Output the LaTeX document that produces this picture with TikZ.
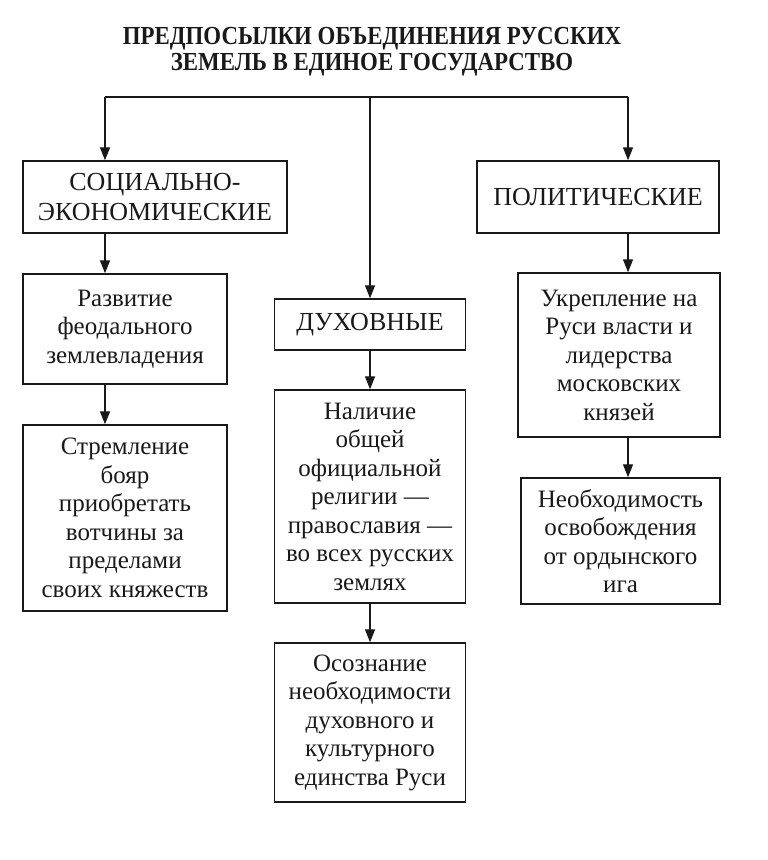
\documentclass[tikz,border=0pt]{standalone}
\usepackage{fontspec}
\setmainfont{Liberation Serif}
\newfontfamily\titlefont{Liberation Serif}[FakeStretch=0.88]
\usepackage{tikz}
\usetikzlibrary{arrows.meta, positioning, calc}
\definecolor{inkblack}{RGB}{25, 25, 25}

\tikzset{
  groupbox/.style={draw=inkblack, line width=1.4pt, align=center, inner sep=0pt,
                   text=inkblack, font=\fontsize{26}{30}\selectfont},
  factbox/.style={draw=inkblack, line width=1.4pt, align=center, inner sep=0pt,
                  text=inkblack, font=\fontsize{25}{28.5}\selectfont},
  flowline/.style={draw=inkblack, line width=1.3pt},
  flowarrow/.style={flowline, -{Triangle[length=13pt, width=10pt]}}
}

\begin{document}
\begin{tikzpicture}[x=1pt, y=-1pt]
    \useasboundingbox (0,0) rectangle (768,860);

    % title
    \node[font=\titlefont\bfseries\fontsize{26}{26}\selectfont, align=center, text=inkblack] (title) at (372,52)
        {ПРЕДПОСЫЛКИ ОБЪЕДИНЕНИЯ РУССКИХ\\ЗЕМЕЛЬ В ЕДИНОЕ ГОСУДАРСТВО};

    % three groups of preconditions
    \node[groupbox, minimum width=264pt, minimum height=72pt] (social) at (155,197)
        {СОЦИАЛЬНО-\\ЭКОНОМИЧЕСКИЕ};
    \node[groupbox, minimum width=191pt, minimum height=51pt] (spirit) at (370,324.5)
        {ДУХОВНЫЕ};
    \node[groupbox, minimum width=242pt, minimum height=72pt] (polit) at (598,197)
        {ПОЛИТИЧЕСКИЕ};

    % left column
    \node[factbox, minimum width=204pt, minimum height=110pt] (feudal) at (125,329)
        {Развитие\\феодального\\землевладения};
    \node[factbox, minimum width=204pt, minimum height=186pt] (boyars) at (125,518)
        {Стремление\\бояр\\приобретать\\вотчины за\\пределами\\своих княжеств};

    % middle column
    \node[factbox, minimum width=191pt, minimum height=213pt] (religion) at (370,496.5)
        {Наличие\\общей\\официальной\\религии —\\православия —\\во всех русских\\землях};
    \node[factbox, minimum width=191pt, minimum height=159pt] (unity) at (370,722.5)
        {Осознание\\необходимости\\духовного и\\культурного\\единства Руси};

    % right column
    \node[factbox, minimum width=202pt, minimum height=164pt] (moscow) at (619,355)
        {Укрепление на\\Руси власти и\\лидерства\\московских\\князей};
    \node[factbox, minimum width=199pt, minimum height=126pt] (horde) at (620.5,541)
        {Необходимость\\освобождения\\от ордынского\\ига};

    % connectors
    \coordinate (forkL) at (105,97);
    \coordinate (forkM) at (370,97);
    \coordinate (forkR) at (628,97);
    \draw[flowline] (forkL) -- (forkR);
    \draw[flowarrow] (forkL) -- (forkL |- social.north);
    \draw[flowarrow] (forkM) -- (spirit.north);
    \draw[flowarrow] (forkR) -- (forkR |- polit.north);

    \draw[flowarrow] (forkL |- social.south) -- (forkL |- feudal.north);
    \draw[flowarrow] (forkL |- feudal.south) -- (forkL |- boyars.north);
    \draw[flowarrow] (spirit.south) -- (religion.north);
    \draw[flowarrow] (religion.south) -- (unity.north);
    \draw[flowarrow] (forkR |- polit.south) -- (forkR |- moscow.north);
    \draw[flowarrow] (forkR |- moscow.south) -- (forkR |- horde.north);
\end{tikzpicture}
\end{document}
